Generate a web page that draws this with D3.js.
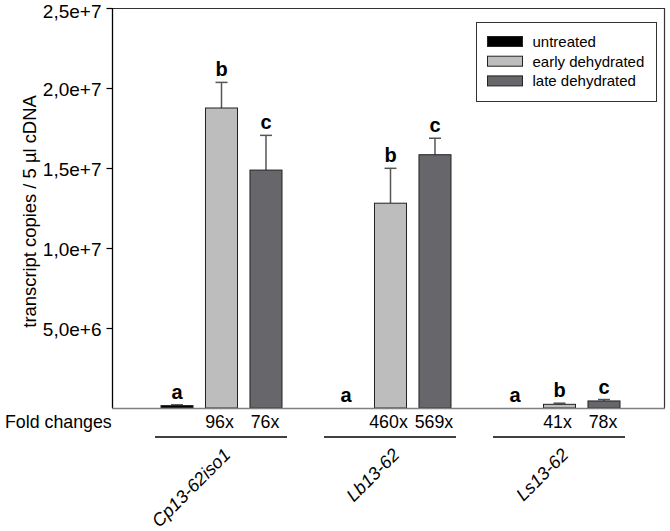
<!DOCTYPE html>
<html>
<head>
<meta charset="utf-8">
<script src="https://cdn.jsdelivr.net/npm/d3@7"></script>
<style>
  html, body { margin: 0; padding: 0; background: #fff; }
  svg { display: block; font-family: Arial, "Liberation Sans", sans-serif; }
</style>
</head>
<body>
<svg id="chart" width="670" height="531"></svg>
<script>
// ---- data ----
const genes = ["Cp13-62iso1", "Lb13-62", "Ls13-62"];
const series = ["untreated", "early dehydrated", "late dehydrated"];
const untreated = [0.15e6, 0.02e6, 0.01e6];
const early = [18.75e6, 12.8e6, 0.23e6];
const late = [14.87e6, 15.83e6, 0.44e6];
const untreatedErr = [0.05e6, 0, 0];
const earlyErr = [1.6e6, 2.18e6, 0.07e6];
const lateErr = [2.17e6, 1.03e6, 0.09e6];
const letters = [["a", "b", "c"], ["a", "b", "c"], ["a", "b", "c"]];
const foldEarly = ["96x", "460x", "41x"];
const foldLate = ["76x", "569x", "78x"];
const yTicks = [5e6, 10e6, 15e6, 20e6, 25e6];
const colors = ["#000000", "#bdbdbd", "#67676b"];

const values = [untreated, early, late];
const errors = [untreatedErr, earlyErr, lateErr];

const svg = d3.select("#chart");
const pLeft = 112, pRight = 665, pTop = 8, pBottom = 408;

const y = d3.scaleLinear().domain([0, 25e6]).range([pBottom, pTop]);
const xg = d3.scaleBand().domain(genes).range([137, 644]).padding(0);
const xs = d3.scaleBand().domain(series).range([0, 121]).paddingInner(0.28).paddingOuter(0);
const gx = g => xg(g) + xg.bandwidth() / 2 - 60.5;

// frame
svg.append("line").attr("x1", pLeft).attr("x2", pRight).attr("y1", pTop + 0.5).attr("y2", pTop + 0.5)
  .attr("stroke", "#333").attr("stroke-width", 1.2);
svg.append("line").attr("x1", pRight - 0.5).attr("x2", pRight - 0.5).attr("y1", pTop).attr("y2", pBottom)
  .attr("stroke", "#333").attr("stroke-width", 1.2);

// y axis
const fmt = d3.format(".1e");
const yAxis = d3.axisLeft(y).tickValues(yTicks).tickSize(6).tickPadding(5)
  .tickFormat(d => fmt(d).replace(".", ","));
const ya = svg.append("g").attr("transform", `translate(${pLeft + 0.5},0)`).call(yAxis);
ya.select(".domain").attr("stroke", "#000").attr("stroke-width", 1.3).attr("d", `M0,${pTop}V${pBottom}`);
ya.selectAll(".tick line").attr("stroke", "#000").attr("stroke-width", 1.2);
ya.selectAll(".tick text").attr("font-size", 19).attr("fill", "#000")
  .attr("font-family", "Arial, 'Liberation Sans', sans-serif")
  .attr("dy", d => d === 25e6 ? "0.48em" : "0.4em");

// y title
svg.append("text")
  .attr("transform", `translate(36,${(95 + 328) / 2}) rotate(-90)`)
  .attr("text-anchor", "middle").attr("font-size", 18.4).attr("fill", "#000")
  .text("transcript copies / 5 µl cDNA");

// bars
genes.forEach((g, gi) => {
  series.forEach((s, si) => {
    const v = values[si][gi];
    const e = errors[si][gi];
    const x0 = gx(g) + xs(s);
    const bw = xs.bandwidth();
    if (e > 0) {
      svg.append("line").attr("x1", x0 + bw / 2).attr("x2", x0 + bw / 2)
        .attr("y1", y(v)).attr("y2", y(v + e)).attr("stroke", "#555").attr("stroke-width", 1.5);
      svg.append("line").attr("x1", x0 + bw / 2 - 6).attr("x2", x0 + bw / 2 + 6)
        .attr("y1", y(v + e)).attr("y2", y(v + e)).attr("stroke", "#555").attr("stroke-width", 1.5);
    }
    const h = y(0) - y(v);
    if (h >= 0.5) {
      svg.append("rect").attr("x", x0).attr("y", y(v)).attr("width", bw).attr("height", h)
        .attr("fill", colors[si]).attr("stroke", "#222").attr("stroke-width", 1);
    }
    svg.append("text").attr("x", x0 + bw / 2).attr("y", y(v + e) - 6)
      .attr("text-anchor", "middle").attr("font-size", 20).attr("font-weight", "bold")
      .attr("fill", "#000").text(letters[gi][si]);
  });
});

// bottom axis line
svg.append("line").attr("x1", pLeft).attr("x2", pRight).attr("y1", pBottom + 0.5).attr("y2", pBottom + 0.5)
  .attr("stroke", "#808080").attr("stroke-width", 1.3);

// fold changes row
svg.append("text").attr("x", 5).attr("y", 428).attr("font-size", 17.8).attr("fill", "#000").text("Fold changes");
genes.forEach((g, gi) => {
  const bw = xs.bandwidth();
  svg.append("text").attr("x", gx(g) + xs(series[1]) + bw / 2 - 2).attr("y", 428)
    .attr("text-anchor", "middle").attr("font-size", 17.8).attr("fill", "#000").text(foldEarly[gi]);
  svg.append("text").attr("x", gx(g) + xs(series[2]) + bw / 2 - 1).attr("y", 428)
    .attr("text-anchor", "middle").attr("font-size", 17.8).attr("fill", "#000").text(foldLate[gi]);
  svg.append("line").attr("x1", gx(g) - 6).attr("x2", gx(g) + 126).attr("y1", 437).attr("y2", 437)
    .attr("stroke", "#000").attr("stroke-width", 1.3);
  svg.append("text")
    .attr("transform", `translate(${xg(g) + xg.bandwidth() / 2 + 10},456) rotate(-45)`)
    .attr("text-anchor", "end").attr("font-size", 18).attr("font-style", "italic")
    .attr("fill", "#000").text(g);
});

// legend
const lg = svg.append("g");
lg.append("rect").attr("x", 476.5).attr("y", 22.5).attr("width", 180).attr("height", 79)
  .attr("fill", "#fff").attr("stroke", "#333").attr("stroke-width", 1);
series.forEach((s, i) => {
  const cy = 41.5 + i * 19.7;
  lg.append("rect").attr("x", 487.5).attr("y", cy - 5).attr("width", 35).attr("height", 10)
    .attr("fill", colors[i]).attr("stroke", "#222").attr("stroke-width", 1);
  lg.append("text").attr("x", 532.5).attr("y", cy + 5.5).attr("font-size", 15).attr("fill", "#000").text(s);
});
</script>
</body>
</html>
